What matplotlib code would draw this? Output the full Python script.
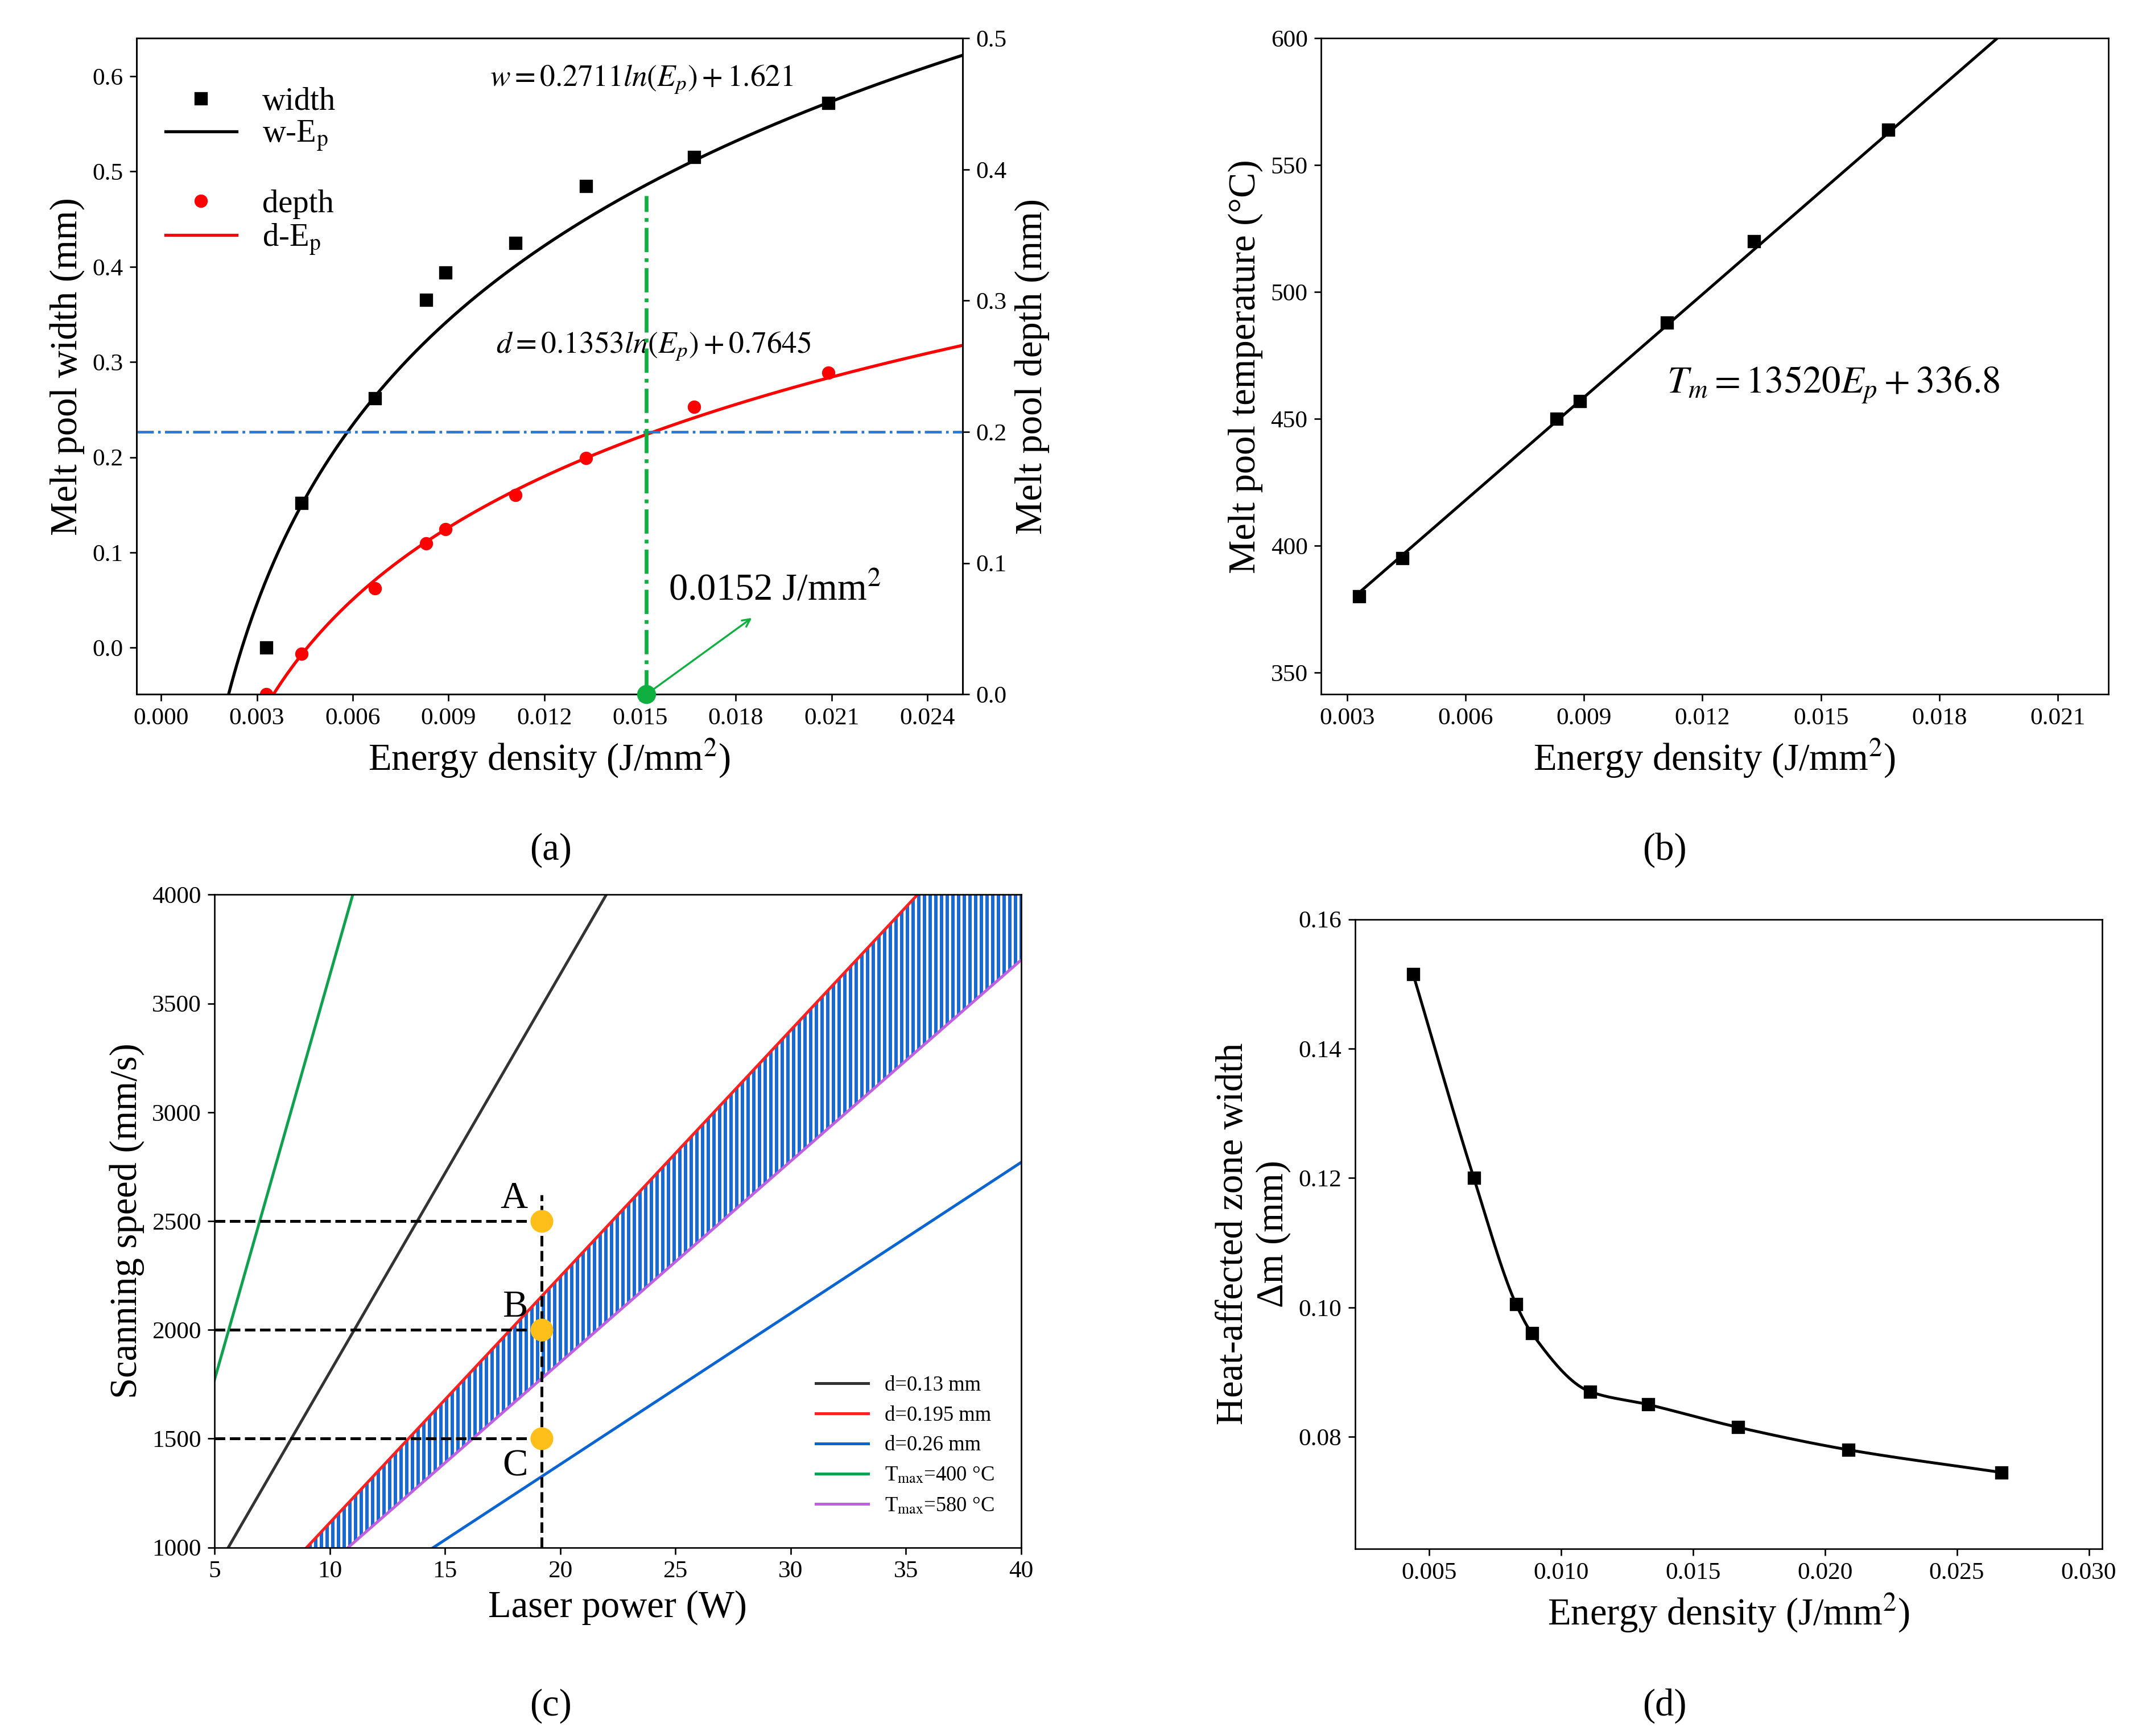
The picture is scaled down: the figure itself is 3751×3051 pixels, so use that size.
import numpy as np
import matplotlib.pyplot as plt
from matplotlib.lines import Line2D

plt.rcParams['font.family'] = ['Liberation Serif', 'DejaVu Serif']
plt.rcParams['mathtext.fontset'] = 'stix'
plt.rcParams['hatch.linewidth'] = 1.8

# ---- (a) melt pool width / depth vs energy density
e_pts = [0.0033, 0.0044, 0.0067, 0.0083, 0.0089, 0.0111, 0.0133, 0.0167, 0.0209]
width = [0.0, 0.152, 0.262, 0.365, 0.394, 0.425, 0.485, 0.515, 0.572]
depth = [0.0, 0.031, 0.081, 0.115, 0.126, 0.152, 0.180, 0.219, 0.245]
w_fit = (0.2711, 1.621)
d_fit = (0.1353, 0.7645)
e_crit = 0.0152

# ---- (b) melt pool temperature
e_temp = [0.0033, 0.0044, 0.0083, 0.0089, 0.0111, 0.0133, 0.0167]
temp = [380, 395, 450, 457, 488, 520, 564]
t_fit = (13520, 336.8)

# ---- (c) process window lines (laser power W, scanning speed mm/s)
c_labels = ['d=0.13 mm', 'd=0.195 mm', 'd=0.26 mm',
            r'T$_{\rm max}$=400 °C', r'T$_{\rm max}$=580 °C']
c_colors = ['#333333', '#ff2020', '#0a64d2', '#10a050', '#c060e0']
c_p = [(5.6, 22.0), (9.0, 35.5), (14.5, 40.0), (5.0, 11.0), (10.8, 40.0)]
c_v = [(1000, 4000), (1000, 4000), (1000, 2770), (1770, 4000), (1000, 3700)]
pt_names = ['A', 'B', 'C']
pt_power = [19.2, 19.2, 19.2]
pt_speed = [2500, 2000, 1500]

# ---- (d) HAZ width
e_haz = [0.0044, 0.0067, 0.0083, 0.0089, 0.0111, 0.0133, 0.0167, 0.0209, 0.0267]
haz = [0.1515, 0.120, 0.1005, 0.096, 0.087, 0.085, 0.0815, 0.078, 0.0745]

TS = 13
LS = 20

fig = plt.figure(figsize=(3751 / 240, 3051 / 240), dpi=240)

# ---------------- (a)
ax = fig.add_axes([0.064, 0.600, 0.387, 0.378])
ax2 = ax.twinx()
ax.set_xlim(-0.00077, 0.0251)
ax.set_ylim(-0.049, 0.64)
ax2.set_ylim(0, 0.5)
x = np.linspace(0.0015, 0.0251, 300)
ax.plot(x, w_fit[0] * np.log(x) + w_fit[1], color='black', lw=1.6)
ax.plot(e_pts, width, 's', color='black', ms=6)
xd = np.linspace(0.0025, 0.0251, 300)
ax2.plot(xd, d_fit[0] * np.log(xd) + d_fit[1], color='red', lw=1.6)
ax2.plot(e_pts, depth, 'o', color='red', ms=6)
ax2.axhline(0.2, color='#2a78d0', ls='-.', lw=1.4)
ax2.plot([e_crit, e_crit], [0, 0.38], color='#10b040', ls='-.', lw=2)
ax2.plot([e_crit], [0], 'o', color='#10b040', ms=9, clip_on=False, zorder=5)
ax2.annotate('', xy=(0.0186, 0.06), xytext=(e_crit, 0),
             arrowprops=dict(arrowstyle='->', color='#10b040', lw=1))
ax2.text(0.0159, 0.072, '0.0152 J/mm$^2$', fontsize=LS)
ax.text(0.0103, 0.59, r'$w=0.2711ln\left(E_p\right)+1.621$', fontsize=16)
ax.text(0.0105, 0.31, r'$d=0.1353ln\left(E_p\right)+0.7645$', fontsize=16)
h = [Line2D([], [], marker='s', color='black', ls='none', ms=6),
     Line2D([], [], color='black', lw=1.6),
     Line2D([], [], ls='none'),
     Line2D([], [], marker='o', color='red', ls='none', ms=6),
     Line2D([], [], color='red', lw=1.6)]
ax.legend(h, ['width', 'w-E$_{\\rm p}$', '', 'depth', 'd-E$_{\\rm p}$'],
          loc='upper left', frameon=False, fontsize=17, labelspacing=0.1,
          handlelength=2.2, bbox_to_anchor=(0.0, 0.97))
ax.set_xticks(np.arange(0, 0.0241, 0.003))
ax.set_xticklabels([f'{v:.3f}' for v in np.arange(0, 0.0241, 0.003)])
ax.set_yticks(np.arange(0, 0.61, 0.1))
ax.set_xlabel('Energy density (J/mm$^2$)', fontsize=LS)
ax.set_ylabel('Melt pool width (mm)', fontsize=LS)
ax2.set_ylabel('Melt pool depth (mm)', fontsize=LS)
ax.tick_params(labelsize=TS)
ax2.tick_params(labelsize=TS)
fig.text(0.258, 0.505, '(a)', fontsize=LS, ha='center')

# ---------------- (b)
ax = fig.add_axes([0.619, 0.600, 0.369, 0.378])
ax.set_xlim(0.00234, 0.02228)
ax.set_ylim(341.4, 600)
xt = np.linspace(0.0033, 0.0195, 50)
ax.plot(xt, t_fit[0] * xt + t_fit[1], color='black', lw=1.5)
ax.plot(e_temp, temp, 's', color='black', ms=6)
ax.text(0.0111, 460, r'$T_m=13520E_p+336.8$', fontsize=20)
ax.set_xticks(np.arange(0.003, 0.0211, 0.003))
ax.set_xticklabels([f'{v:.3f}' for v in np.arange(0.003, 0.0211, 0.003)])
ax.set_yticks(range(350, 601, 50))
ax.set_xlabel('Energy density (J/mm$^2$)', fontsize=LS)
ax.set_ylabel('Melt pool temperature (°C)', fontsize=LS)
ax.tick_params(labelsize=TS)
fig.text(0.78, 0.505, '(b)', fontsize=LS, ha='center')

# ---------------- (c)
ax = fig.add_axes([0.1005, 0.1086, 0.378, 0.376])
ax.set_xlim(5, 40)
ax.set_ylim(1000, 4000)
for lab, col, p, v in zip(c_labels, c_colors, c_p, c_v):
    ax.plot(p, v, color=col, lw=1.5, label=lab)
# hatched band between d=0.195 and Tmax=580
vv = np.linspace(1000, 4000, 200)
p_red = np.interp(vv, c_v[1], c_p[1])
p_pur = np.interp(vv, c_v[4], c_p[4])
ax.fill_betweenx(vv, p_red, p_pur, facecolor='none', edgecolor='#1a6ad0',
                 hatch='||||', lw=0)
for n, pw, sp in zip(pt_names, pt_power, pt_speed):
    ax.plot([5, pw], [sp, sp], 'k--', lw=1.5)
    ax.plot(pw, sp, 'o', color='#ffbf1a', ms=11, zorder=5)
    ax.text(pw - 0.6, sp + 60 if n != 'C' else sp - 170, n, fontsize=LS,
            ha='right')
ax.plot([19.2, 19.2], [1000, 2620], 'k--', lw=1.5)
ax.legend(loc='lower right', fontsize=11, frameon=False,
          bbox_to_anchor=(0.99, 0.02), handlelength=2.5)
ax.set_xticks(range(5, 41, 5))
ax.set_yticks(range(1000, 4001, 500))
ax.set_xlabel('Laser power (W)', fontsize=LS)
ax.set_ylabel('Scanning speed (mm/s)', fontsize=LS)
ax.tick_params(labelsize=TS)
fig.text(0.258, 0.012, '(c)', fontsize=LS, ha='center')

# ---------------- (d)
ax = fig.add_axes([0.635, 0.1078, 0.350, 0.3627])
ax.set_xlim(0.0022, 0.0305)
ax.set_ylim(0.0627, 0.16)
# monotone cubic (PCHIP) through the points for the smooth curve
xs = np.array(e_haz)
ys = np.array(haz)
hk = np.diff(xs)
dk = np.diff(ys) / hk
m = np.zeros_like(ys)
for i in range(1, len(xs) - 1):
    if dk[i - 1] * dk[i] > 0:
        w1 = 2 * hk[i] + hk[i - 1]
        w2 = hk[i] + 2 * hk[i - 1]
        m[i] = (w1 + w2) / (w1 / dk[i - 1] + w2 / dk[i])
m[0], m[-1] = dk[0], dk[-1]
cx, cy = [], []
for i in range(len(xs) - 1):
    t = np.linspace(0, 1, 40)
    h00 = 2 * t**3 - 3 * t**2 + 1
    h10 = t**3 - 2 * t**2 + t
    h01 = -2 * t**3 + 3 * t**2
    h11 = t**3 - t**2
    cx.extend(xs[i] + t * hk[i])
    cy.extend(h00 * ys[i] + h10 * hk[i] * m[i] + h01 * ys[i + 1] + h11 * hk[i] * m[i + 1])
ax.plot(cx, cy, color='black', lw=1.5)
ax.plot(e_haz, haz, 's', color='black', ms=6)
ax.set_xticks(np.arange(0.005, 0.0301, 0.005))
ax.set_xticklabels([f'{v:.3f}' for v in np.arange(0.005, 0.0301, 0.005)])
ax.set_yticks(np.arange(0.08, 0.161, 0.02))
ax.set_xlabel('Energy density (J/mm$^2$)', fontsize=LS)
ax.set_ylabel('Heat-affected zone width\nΔm (mm)', fontsize=LS)
ax.tick_params(labelsize=TS)
fig.text(0.78, 0.012, '(d)', fontsize=LS, ha='center')

fig.savefig('out.png', dpi=240)
